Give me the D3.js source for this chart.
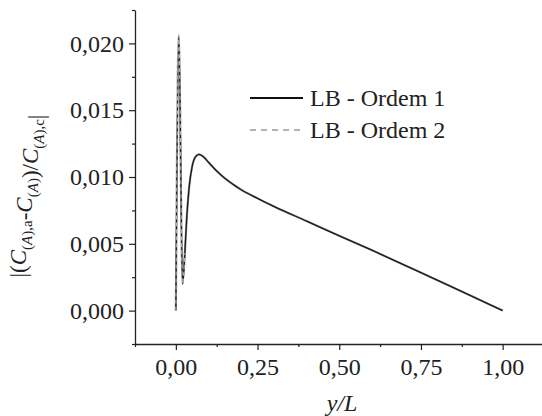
<!DOCTYPE html>
<html>
<head>
<meta charset="utf-8">
<script src="https://cdn.jsdelivr.net/npm/d3@7"></script>
</head>
<body style="margin:0">
<div class="chart"></div>
<script>
// values
var yL     = [0, 0.009, 0.0205, 0.0275, 0.033, 0.041, 0.05, 0.06, 0.071, 0.085, 0.10, 0.125, 0.15, 0.175, 0.20, 0.25, 0.30, 0.40, 0.50, 0.60, 0.70, 0.80, 0.90, 1.00];
var ordem1 = [0, 0.0205, 0.0020, 0.0043, 0.0068, 0.0093, 0.0108, 0.0115, 0.0117, 0.0115, 0.0111, 0.01045, 0.0099, 0.00945, 0.00905, 0.0084, 0.0078, 0.0067, 0.0056, 0.00452, 0.0034, 0.00228, 0.00114, 0];
var ordem2 = [0, 0.0206, 0.0020, 0.0043, 0.0068, 0.0093, 0.0108, 0.0115, 0.0117, 0.0115, 0.0111, 0.01045, 0.0099, 0.00945, 0.00905, 0.0084, 0.0078, 0.0067, 0.0056, 0.00452, 0.0034, 0.00228, 0.00114, 0];
var xTicks = [0, 0.25, 0.5, 0.75, 1.0];
var yTicks = [0, 0.005, 0.010, 0.015, 0.020];
var seriesNames = ["LB - Ordem 1", "LB - Ordem 2"];

var W=542, H=416;
var svg=d3.select(".chart").append("svg")
  .attr("width", W)
  .attr("height", H);

function serif(sel, size){
  return sel.style("font-family", "'Liberation Serif', 'Times New Roman', serif").attr("font-size", size);
}

var x=d3.scaleLinear().domain([-0.125, 1.125]).range([135, 543.5]);
var y=d3.scaleLinear().domain([-0.0025, 0.0225]).range([344, 10]);

var fmtX=function(d){return d3.format(".2f")(d).replace(".", ",")};
var fmtY=function(d){return d3.format(".3f")(d).replace(".", ",")};

// minor ticks
svg.append("g")
  .attr("transform", "translate(0,344)")
  .call(d3.axisBottom(x).tickValues([-0.125,0.125,0.375,0.625,0.875,1.125]).tickSize(3).tickFormat("").tickSizeOuter(0))
  .call(function(g){g.select(".domain").remove()})
  .selectAll("line").attr("stroke", "#222").attr("stroke-width", 1.2);
svg.append("g")
  .attr("transform", "translate(135,0)")
  .call(d3.axisLeft(y).tickValues([-0.0025,0.0025,0.0075,0.0125,0.0175,0.0225]).tickSize(3).tickFormat("").tickSizeOuter(0))
  .call(function(g){g.select(".domain").remove()})
  .selectAll("line").attr("stroke", "#222").attr("stroke-width", 1.2);

// major axes
var xAxis=svg.append("g")
  .attr("transform", "translate(0,344)")
  .call(d3.axisBottom(x).tickValues(xTicks).tickSize(6).tickPadding(8).tickSizeOuter(0).tickFormat(fmtX));
var yAxis=svg.append("g")
  .attr("transform", "translate(135,0)")
  .call(d3.axisLeft(y).tickValues(yTicks).tickSize(6).tickPadding(5).tickSizeOuter(0).tickFormat(fmtY));

[xAxis, yAxis].forEach(function(a){
  a.select(".domain").attr("stroke", "#222").attr("stroke-width", 1.3);
  a.selectAll("line").attr("stroke", "#222").attr("stroke-width", 1.2);
  serif(a.selectAll("text"), "24px").attr("fill", "#222");
});

// curves
var line=d3.line()
  .x(function(d){return x(d[0])})
  .y(function(d){return y(d[1])})
  .curve(d3.curveMonotoneX);

var d1=yL.map(function(v,i){return [v, ordem1[i]]});
var d2=yL.map(function(v,i){return [v, ordem2[i]]});

svg.append("path")
  .datum(d2)
  .attr("d", line)
  .attr("fill", "none")
  .attr("stroke", "#9a9a9a")
  .attr("stroke-width", 2.2);
svg.append("path")
  .datum(d1)
  .attr("d", line)
  .attr("fill", "none")
  .attr("stroke", "#1a1a1a")
  .attr("stroke-width", 1.3);
svg.append("path")
  .datum(d2.slice(0, 4))
  .attr("d", line)
  .attr("fill", "none")
  .attr("stroke", "#bbb")
  .attr("stroke-width", 1)
  .attr("stroke-dasharray", "4,3");

// legend
seriesNames.forEach(function(name,i){
  var ly=98+i*32;
  svg.append("line")
    .attr("x1", 250).attr("x2", 303)
    .attr("y1", ly).attr("y2", ly)
    .attr("stroke", i==0 ? "#111" : "#999")
    .attr("stroke-width", i==0 ? 1.8 : 1.5)
    .attr("stroke-dasharray", i==0 ? null : "6,5");
  serif(svg.append("text"), "24px")
    .attr("x", 310).attr("y", ly+8)
    .attr("fill", "#222")
    .text(name);
});

// axis titles
serif(svg.append("text"), "24px")
  .attr("x", 342).attr("y", 411)
  .attr("text-anchor", "middle")
  .attr("font-style", "italic")
  .attr("fill", "#222")
  .text("y/L");

var yt=serif(svg.append("text"), "23px")
  .attr("transform", "translate(26,196) rotate(-90)")
  .attr("text-anchor", "middle")
  .attr("fill", "#222");
function part(t, it){ yt.append("tspan").attr("font-style", it ? "italic" : "normal").text(t); }
function sub(pieces){
  var s=yt.append("tspan").attr("font-size", "15px").attr("dy", 6);
  pieces.forEach(function(p){ s.append("tspan").attr("font-style", p[1] ? "italic" : "normal").text(p[0]); });
  yt.append("tspan").attr("dy", -6).text("");
}
part("|(");
part("C", true);
sub([["(",0],["A",1],["),a",0]]);
part("-");
part("C", true);
sub([["(",0],["A",1],[")",0]]);
part(")/");
part("C", true);
sub([["(",0],["A",1],["),c",0]]);
part("|");
</script>
</body>
</html>
